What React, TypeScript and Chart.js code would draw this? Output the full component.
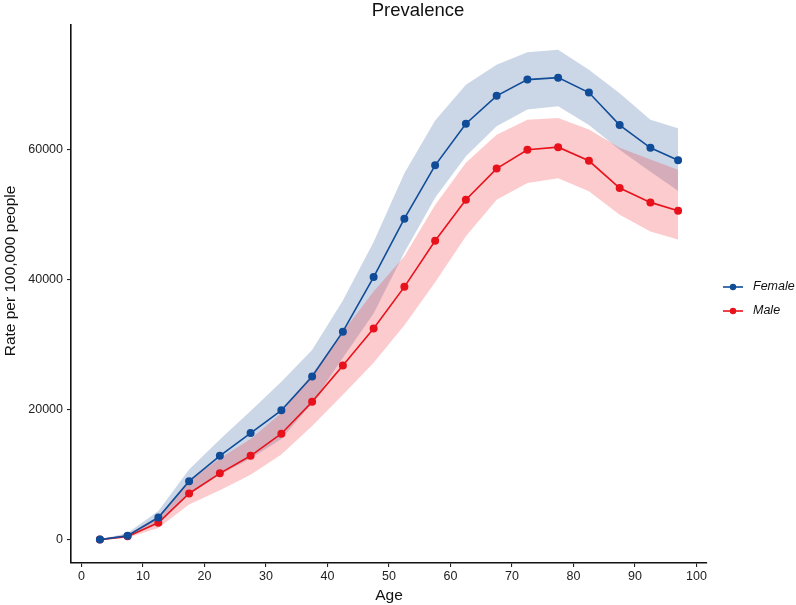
import React, { useEffect, useRef } from "react";
import { Chart, registerables } from "chart.js";

Chart.register(...registerables);

// ---- Data ----
const ages = [3, 7.5, 12.5, 17.5, 22.5, 27.5, 32.5, 37.5, 42.5, 47.5, 52.5, 57.5, 62.5, 67.5, 72.5, 77.5, 82.5, 87.5, 92.5, 97];

const femaleRate = [0, 600, 3400, 9000, 12900, 16400, 19900, 25100, 32000, 40400, 49400, 57600, 64000, 68300, 70800, 71100, 68800, 63800, 60300, 58400];
const femaleUpper = [0, 1000, 4400, 10800, 15400, 19800, 24300, 29200, 36800, 45800, 56400, 64500, 70000, 73100, 75000, 75400, 72300, 68700, 64600, 63300];
const femaleLower = [0, 300, 2600, 7000, 10000, 12500, 15500, 21000, 28000, 34800, 44200, 52600, 59000, 63600, 66200, 66700, 63800, 60000, 56600, 53700];

const maleRate = [0, 500, 2600, 7100, 10200, 12900, 16300, 21200, 26800, 32500, 38900, 46000, 52300, 57100, 60000, 60400, 58300, 54100, 51900, 50600];
const maleUpper = [0, 800, 3600, 9000, 12500, 15500, 19500, 25500, 32000, 38200, 43600, 51500, 58000, 62300, 64600, 64900, 63100, 60300, 58500, 56900];
const maleLower = [0, 300, 1800, 5400, 7600, 10000, 13100, 17500, 22300, 27200, 33000, 39600, 46700, 52300, 54900, 55600, 53600, 50000, 47400, 46200];

const xTicks = [0, 10, 20, 30, 40, 50, 60, 70, 80, 90, 100];
const yTicks = [0, 20000, 40000, 60000];

const seriesNames = ["Female", "Male"];
const chartTitle = "Prevalence";
const xTitle = "Age";
const yTitle = "Rate per 100,000 people";

// ---- Styles ----
const FONT = '"Liberation Sans", Arial, Helvetica, sans-serif';
const FEMALE_COLOR = "#104c98";
const MALE_COLOR = "#e8121c";
const FEMALE_FILL = "rgba(30, 80, 150, 0.23)";
const MALE_FILL = "rgba(240, 30, 40, 0.23)";
const TEXT_COLOR = "#222";

const pts = (ys: number[]) => ages.map((a, i) => ({ x: a, y: ys[i] }));

const decorPlugin = {
  id: "decor",
  afterDraw(chart: any) {
    const ctx = chart.ctx;
    const area = chart.chartArea;
    ctx.save();
    ctx.fillStyle = "#111";
    // Title
    ctx.font = `18.5px ${FONT}`;
    ctx.textAlign = "center";
    ctx.textBaseline = "alphabetic";
    ctx.fillText(chartTitle, 418, 15.5);
    // X title
    ctx.font = `15.5px ${FONT}`;
    ctx.fillText(xTitle, (area.left + area.right) / 2, 600);
    // Y title
    ctx.save();
    ctx.translate(14.5, 271);
    ctx.rotate(-Math.PI / 2);
    ctx.fillText(yTitle, 0, 0);
    ctx.restore();
    // Legend
    const colors = [FEMALE_COLOR, MALE_COLOR];
    const ys = [287, 311];
    seriesNames.forEach((name, i) => {
      const y = ys[i];
      ctx.strokeStyle = colors[i];
      ctx.lineWidth = 1.6;
      ctx.beginPath();
      ctx.moveTo(723, y);
      ctx.lineTo(743, y);
      ctx.stroke();
      ctx.fillStyle = colors[i];
      ctx.beginPath();
      ctx.arc(733, y, 3.2, 0, Math.PI * 2);
      ctx.fill();
      ctx.fillStyle = "#111";
      ctx.font = `italic 12.5px ${FONT}`;
      ctx.textAlign = "left";
      ctx.textBaseline = "middle";
      ctx.fillText(name, 753, y);
    });
    ctx.restore();
  },
};

export default function App() {
  const ref = useRef<HTMLCanvasElement>(null);

  useEffect(() => {
    if (!ref.current) return;
    const bandCommon = { borderWidth: 0, pointRadius: 0, pointHoverRadius: 0, tension: 0 };
    const lineCommon = { borderWidth: 1.6, pointRadius: 3.2, pointHoverRadius: 3.2, tension: 0, fill: false };
    const chart = new Chart(ref.current, {
      type: "line",
      data: {
        datasets: [
          { label: "FemaleUpper", data: pts(femaleUpper), fill: "+1", backgroundColor: FEMALE_FILL, borderColor: "transparent", order: 6, ...bandCommon },
          { label: "FemaleLower", data: pts(femaleLower), fill: false, borderColor: "transparent", order: 6, ...bandCommon },
          { label: "MaleUpper", data: pts(maleUpper), fill: "+1", backgroundColor: MALE_FILL, borderColor: "transparent", order: 5, ...bandCommon },
          { label: "MaleLower", data: pts(maleLower), fill: false, borderColor: "transparent", order: 5, ...bandCommon },
          { label: seriesNames[1], data: pts(maleRate), borderColor: MALE_COLOR, backgroundColor: MALE_COLOR, pointBackgroundColor: MALE_COLOR, pointBorderColor: MALE_COLOR, order: 2, ...lineCommon },
          { label: seriesNames[0], data: pts(femaleRate), borderColor: FEMALE_COLOR, backgroundColor: FEMALE_COLOR, pointBackgroundColor: FEMALE_COLOR, pointBorderColor: FEMALE_COLOR, order: 1, ...lineCommon },
        ] as any,
      },
      options: {
        animation: false,
        responsive: false,
        maintainAspectRatio: false,
        events: [],
        layout: { padding: { top: 25, right: 89, bottom: 0, left: 0 } },
        plugins: {
          legend: { display: false },
          title: { display: false },
          tooltip: { enabled: false },
        },
        scales: {
          x: {
            type: "linear",
            min: -1.7,
            max: 101.7,
            afterBuildTicks: (scale: any) => {
              scale.ticks = xTicks.map((v) => ({ value: v }));
            },
            afterFit: (scale: any) => {
              scale.height = 42;
            },
            grid: { display: true, drawOnChartArea: false, drawTicks: true, tickLength: 4, color: "#222", lineWidth: 1.1 },
            border: { display: true, color: "#111", width: 1.6 },
            ticks: {
              autoSkip: false,
              maxRotation: 0,
              padding: 2,
              color: TEXT_COLOR,
              font: { family: FONT, size: 12.5 },
              callback: (v: any) => String(v),
            },
          },
          y: {
            type: "linear",
            min: -3600,
            max: 79200,
            afterBuildTicks: (scale: any) => {
              scale.ticks = yTicks.map((v) => ({ value: v }));
            },
            afterFit: (scale: any) => {
              scale.width = 71;
            },
            grid: { display: true, drawOnChartArea: false, drawTicks: true, tickLength: 4, color: "#222", lineWidth: 1.1 },
            border: { display: true, color: "#111", width: 1.6 },
            ticks: {
              autoSkip: false,
              padding: 4,
              color: TEXT_COLOR,
              font: { family: FONT, size: 12.5 },
              callback: (v: any) => String(v),
            },
          },
        },
      } as any,
      plugins: [decorPlugin],
    });
    return () => chart.destroy();
  }, []);

  return (
    <div style={{ position: "fixed", left: 0, top: 0, width: 796, height: 605, background: "#fff" }}>
      <canvas ref={ref} width={796} height={605} style={{ display: "block", width: 796, height: 605 }} />
    </div>
  );
}
